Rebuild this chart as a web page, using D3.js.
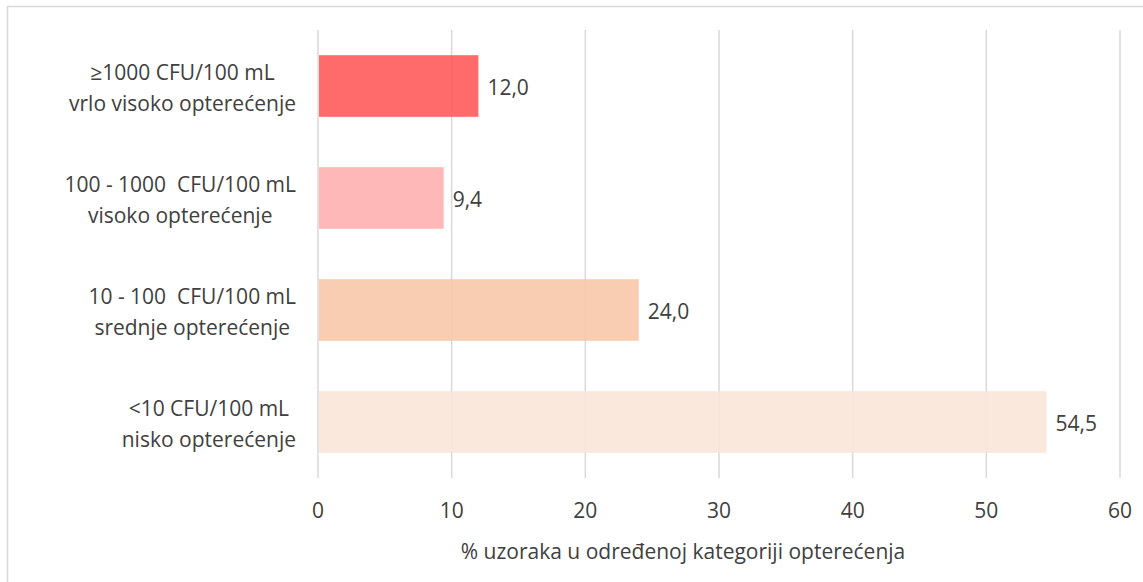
<!DOCTYPE html>
<html>
<head>
<meta charset="utf-8">
<script src="https://cdn.jsdelivr.net/npm/d3@7"></script>
<style>
body{margin:0;background:#fff;}
text{font-family:"Open Sans",sans-serif;fill:#404040;white-space:pre;}
</style>
</head>
<body>
<div id="chart"></div>
<script>
var categories = [
    ["\u22651000 CFU/100 mL", "vrlo visoko optere\u0107enje"],
    ["100 - 1000  CFU/100 mL", "visoko optere\u0107enje"],
    ["10 - 100  CFU/100 mL", "srednje optere\u0107enje"],
    ["<10 CFU/100 mL", "nisko optere\u0107enje"]
];
var values = [12.0, 9.4, 24.0, 54.5];
var barColors = ["#FF5A5A", "#FFB0B0", "#F8C8A8", "#FBE6D8"];
var xTicks = [0, 10, 20, 30, 40, 50, 60];
var xTitle = "% uzoraka u odre\u0111enoj kategoriji optere\u0107enja";

var w = 1143, h = 582;
var svg = d3.select("#chart").append("svg").attr("width", w).attr("height", h);

// frame
svg.append("rect").attr("x", 7.5).attr("y", 6.5).attr("width", w + 10).attr("height", h + 10)
    .attr("fill", "none").attr("stroke", "#d9d9d9").attr("stroke-width", 1.5);

var x = d3.scaleLinear().domain([0, 60]).range([318, 1120]);
var y = d3.scaleBand().domain(d3.range(categories.length)).range([30, 478]).paddingInner(0.45).paddingOuter(0.225);

// gridlines
svg.append("g").selectAll("line").data(xTicks).enter().append("line")
    .attr("x1", function(d){return x(d)}).attr("x2", function(d){return x(d)})
    .attr("y1", 30).attr("y2", 478)
    .attr("stroke", "#d9d9d9").attr("stroke-width", 1.5);

svg.append("g").selectAll("rect").data(values).enter().append("rect")
    .attr("x", x(0) + 1)
    .attr("y", function(d, i){return y(i)})
    .attr("width", function(d){return x(d) - x(0) - 1})
    .attr("height", y.bandwidth())
    .attr("fill", function(d, i){return barColors[i]})
    .attr("fill-opacity", 0.9);

svg.append("g").selectAll("text").data(values).enter().append("text")
    .attr("x", function(d){return x(d) + 9})
    .attr("y", function(d, i){return y(i) + y.bandwidth() / 2 + 8.5})
    .style("font-size", "21px")
    .text(function(d){return d.toFixed(1).replace(".", ",")});

// category labels: lines centered, block right-aligned to the axis
var catG = svg.append("g");
categories.forEach(function(c, i){
    var cy = y(i) + y.bandwidth() / 2;
    var t = catG.append("text").attr("text-anchor", "middle").style("font-size", "21px");
    var l1 = t.append("tspan").attr("y", cy - 6).text(c[0]);
    var l2 = t.append("tspan").attr("y", cy + 25).text(c[1]);
    var maxW = Math.max(l1.node().getComputedTextLength(), l2.node().getComputedTextLength());
    var cx = 296 - maxW / 2;
    l1.attr("x", cx);
    l2.attr("x", cx);
});

// x axis labels
svg.append("g").selectAll("text").data(xTicks).enter().append("text")
    .attr("x", function(d){return x(d)})
    .attr("y", 518)
    .attr("text-anchor", "middle")
    .style("font-size", "21px")
    .text(function(d){return d});

svg.append("text").attr("x", 683).attr("y", 559)
    .attr("text-anchor", "middle").style("font-size", "21px").text(xTitle);
</script>
</body>
</html>
